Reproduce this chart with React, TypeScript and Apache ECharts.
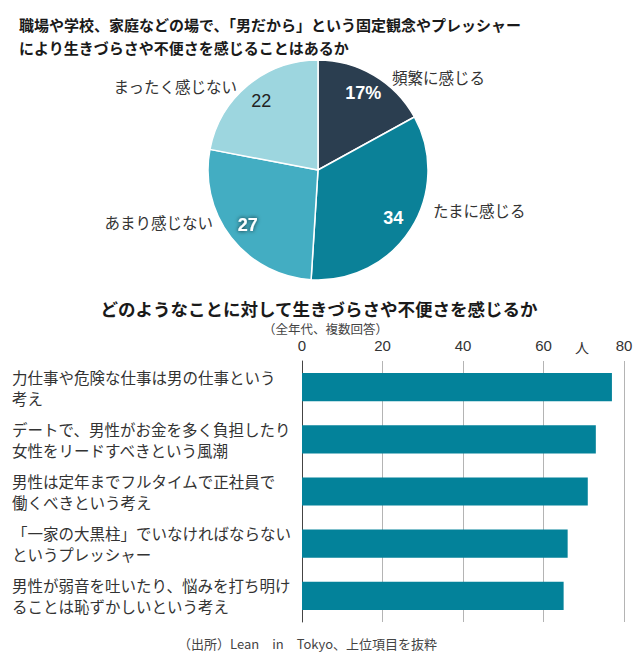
import React, { useEffect, useRef } from "react";
import * as echarts from "echarts";

const titleLines = [
  "職場や学校、家庭などの場で、「男だから」という固定観念やプレッシャー",
  "により生きづらさや不便さを感じることはあるか",
];
const pieNames = ["頻繁に感じる", "たまに感じる", "あまり感じない", "まったく感じない"];
const pieValues = [17, 34, 27, 22];
const pieValueLabels = ["17%", "34", "27", "22"];
const pieColors = ["#2b3e50", "#0b8198", "#43adc2", "#9dd6df"];

const barTitle = "どのようなことに対して生きづらさや不便さを感じるか";
const barNote = "（全年代、複数回答）";
const barCategories = [
  "力仕事や危険な仕事は男の仕事という\n考え",
  "デートで、男性がお金を多く負担したり\n女性をリードすべきという風潮",
  "男性は定年までフルタイムで正社員で\n働くべきという考え",
  "「一家の大黒柱」でいなければならない\nというプレッシャー",
  "男性が弱音を吐いたり、悩みを打ち明け\nることは恥ずかしいという考え",
];
const barValues = [77, 73, 71, 66, 65];
const axisMin = 0;
const axisMax = 80;
const axisInterval = 20;
const unitLabel = "人";
const sourceText = "（出所）Lean　in　Tokyo、上位項目を抜粋";

const FONT = "'Noto Sans CJK JP', 'Noto Sans', sans-serif";
const NUMFONT = "'Liberation Sans', Arial, sans-serif";

// label placement for the outer pie names (text anchor points)
const outerLabelPos = [
  { x: 392, y: 77, align: "left" },
  { x: 433, y: 210, align: "left" },
  { x: 213, y: 222, align: "right" },
  { x: 237, y: 86, align: "right" },
];

export default function App() {
  const ref = useRef<HTMLDivElement>(null);
  useEffect(() => {
    document.body.style.margin = "0";
    const chart = echarts.init(ref.current!, null, { renderer: "svg" });
    const innerLabelStyles = [
      { color: "#fff", fontWeight: "bold" },
      { color: "#fff", fontWeight: "bold" },
      { color: "#fff", fontWeight: "bold", textShadowColor: "rgba(0,0,0,0.8)", textShadowBlur: 4 },
      { color: "#222", fontWeight: "normal" },
    ];
    chart.setOption({
      animation: false,
      backgroundColor: "#fff",
      title: [
        {
          text: titleLines.join("\n"),
          left: 14,
          top: 8,
          textStyle: { fontFamily: FONT, fontSize: 15, fontWeight: "bold", color: "#1a1a1a", lineHeight: 23 },
        },
        {
          text: barTitle,
          left: "center",
          top: 294,
          textStyle: { fontFamily: FONT, fontSize: 17.5, fontWeight: "bold", color: "#1a1a1a", lineHeight: 18 },
        },
        {
          text: barNote,
          left: 258,
          top: 317,
          textStyle: { fontFamily: FONT, fontSize: 12.5, fontWeight: "normal", color: "#444", lineHeight: 13 },
        },
        {
          text: sourceText,
          left: 173,
          top: 630,
          textStyle: { fontFamily: FONT, fontSize: 13, fontWeight: "normal", color: "#444", lineHeight: 16 },
        },
      ],
      graphic: [
        {
          type: "text",
          x: 582,
          y: 347,
          style: {
            text: unitLabel,
            fontFamily: FONT,
            fontSize: 14,
            fill: "#333",
            align: "center",
            verticalAlign: "middle",
          },
        },
      ],
      grid: { left: 302, right: 14, top: 361, bottom: 35 },
      xAxis: {
        type: "value",
        position: "top",
        min: axisMin,
        max: axisMax,
        interval: axisInterval,
        axisLine: { show: false },
        axisTick: { show: false },
        splitLine: { show: true, lineStyle: { color: "#b4b4b4", width: 1 } },
        axisLabel: { fontFamily: NUMFONT, fontSize: 15, color: "#333", margin: 8 },
      },
      yAxis: {
        type: "category",
        inverse: true,
        data: barCategories,
        axisLine: { show: true, lineStyle: { color: "#444", width: 1 } },
        axisTick: { show: false },
        axisLabel: {
          align: "left",
          margin: 290,
          fontFamily: FONT,
          fontSize: 15.5,
          color: "#333",
          lineHeight: 21,
        },
      },
      series: [
        {
          type: "bar",
          data: barValues,
          barWidth: "54%",
          itemStyle: { color: "#03829a" },
          silent: true,
        },
        {
          type: "pie",
          center: [318, 170],
          radius: [0, 110],
          startAngle: 90,
          clockwise: true,
          silent: true,
          itemStyle: { borderColor: "#fff", borderWidth: 1.5 },
          label: {
            show: true,
            position: "outside",
            fontFamily: FONT,
            fontSize: 15.5,
            color: "#333",
          },
          labelLine: { show: false },
          labelLayout: (p: any) => {
            const pos = outerLabelPos[p.dataIndex];
            return { x: pos.x, y: pos.y, align: pos.align, verticalAlign: "middle" };
          },
          data: pieNames.map((n, i) => ({
            name: n,
            value: pieValues[i],
            itemStyle: { color: pieColors[i] },
          })),
        },
        {
          type: "pie",
          center: [318, 170],
          radius: [62, 110],
          startAngle: 90,
          clockwise: true,
          silent: true,
          itemStyle: { color: "rgba(0,0,0,0)", borderWidth: 0 },
          label: {
            show: true,
            position: "inside",
            fontFamily: NUMFONT,
            fontSize: 18,
            formatter: (p: any) => pieValueLabels[p.dataIndex],
          },
          labelLine: { show: false },
          data: pieNames.map((n, i) => ({
            name: n + "_v",
            value: pieValues[i],
            label: innerLabelStyles[i],
          })),
        },
      ],
    });
    return () => chart.dispose();
  }, []);
  return <div ref={ref} style={{ width: 638, height: 657 }} />;
}
